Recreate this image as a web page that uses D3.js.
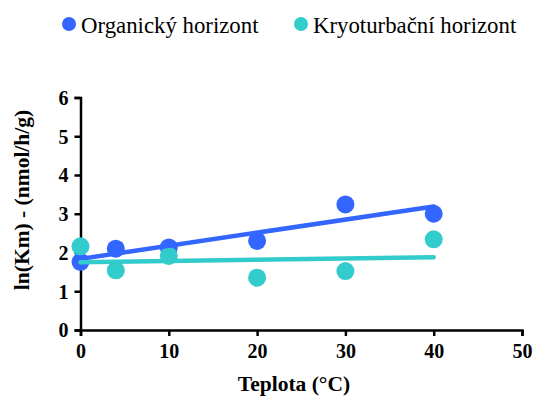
<!DOCTYPE html>
<html>
<head>
<meta charset="utf-8">
<script src="https://cdn.jsdelivr.net/npm/d3@7"></script>
<style>
  body { margin: 0; background: #fff; }
  text { font-family: "Liberation Serif", "Times New Roman", serif; }
</style>
</head>
<body>
<svg width="543" height="406"></svg>
<script>
const temps = [0, 4, 10, 20, 30, 40];
const organic = [1.76, 2.10, 2.13, 2.30, 3.24, 3.00];
const kryo = [2.16, 1.54, 1.91, 1.35, 1.52, 2.34];
const seriesNames = ["Organický horizont", "Kryoturbační horizont"];
const seriesColors = ["#3366ff", "#33cccc"];
const xTicks = [0, 10, 20, 30, 40, 50];
const yTicks = [0, 1, 2, 3, 4, 5, 6];

const serif = "Liberation Serif";

var svg = d3.select("svg");

const x = d3.scaleLinear().domain([0, 50]).range([80.5, 522]);
const y = d3.scaleLinear().domain([0, 6]).range([330, 97.5]);

// least squares trend line
const fit = (xs, ys) => {
  const mx = d3.mean(xs), my = d3.mean(ys);
  const sxy = d3.sum(xs, (v, i) => (v - mx) * (ys[i] - my));
  const sxx = d3.sum(xs, v => (v - mx) * (v - mx));
  const b = sxy / sxx;
  return { a: my - b * mx, b: b };
};

const series = [organic, kryo].map((vals, i) => ({
  name: seriesNames[i],
  color: seriesColors[i],
  points: temps.map((t, j) => ({ x: t, y: vals[j] })),
  fit: fit(temps, vals)
}));

// axes
const xAxis = svg.append("g")
  .attr("transform", "translate(0," + y(0) + ")")
  .call(d3.axisBottom(x).tickValues(xTicks).tickFormat(d3.format("d")).tickSize(6).tickPadding(5));
const yAxis = svg.append("g")
  .attr("transform", "translate(" + x(0) + ",0)")
  .call(d3.axisLeft(y).tickValues(yTicks).tickFormat(d3.format("d")).tickSize(6).tickPadding(6));

[xAxis, yAxis].forEach(g => {
  g.attr("font-family", serif).attr("font-size", 20).attr("font-weight", "bold");
  g.select(".domain").attr("stroke", "#000").attr("stroke-width", 2.5);
  g.selectAll(".tick line").attr("stroke", "#000").attr("stroke-width", 2.5);
  g.selectAll(".tick text").attr("fill", "#000");
});
xAxis.selectAll(".tick text").attr("dy", "0.85em");
yAxis.selectAll(".tick text").attr("dy", "0.34em");

// points
series.forEach(s => {
  svg.append("g")
    .selectAll("circle")
    .data(s.points)
    .join("circle")
      .attr("cx", d => x(d.x))
      .attr("cy", d => y(d.y))
      .attr("r", 9)
      .attr("fill", s.color);
});

// trend lines
series.forEach(s => {
  svg.append("line")
    .attr("x1", x(0))
    .attr("y1", y(s.fit.a))
    .attr("x2", x(40))
    .attr("y2", y(s.fit.a + s.fit.b * 40))
    .attr("stroke", s.color)
    .attr("stroke-width", 4.5)
    .attr("stroke-linecap", "round");
});

// axis titles
svg.append("text")
  .attr("x", 294)
  .attr("y", 391)
  .attr("text-anchor", "middle")
  .attr("font-family", serif)
  .attr("font-size", 21.5)
  .attr("font-weight", "bold")
  .text("Teplota (°C)");

svg.append("text")
  .attr("transform", "translate(29,200) rotate(-90)")
  .attr("text-anchor", "middle")
  .attr("font-family", serif)
  .attr("font-size", 21.5)
  .attr("font-weight", "bold")
  .text("ln(Km) - (nmol/h/g)");

// legend
const legendX = [69, 301];
const legend = svg.append("g")
  .selectAll("g")
  .data(series)
  .join("g")
    .attr("transform", (d, i) => "translate(" + legendX[i] + ",24)");
legend.append("circle")
  .attr("r", 7)
  .attr("fill", d => d.color);
legend.append("text")
  .attr("x", 12)
  .attr("y", 8.5)
  .attr("font-family", serif)
  .attr("font-size", 22.8)
  .text(d => d.name);
</script>
</body>
</html>
